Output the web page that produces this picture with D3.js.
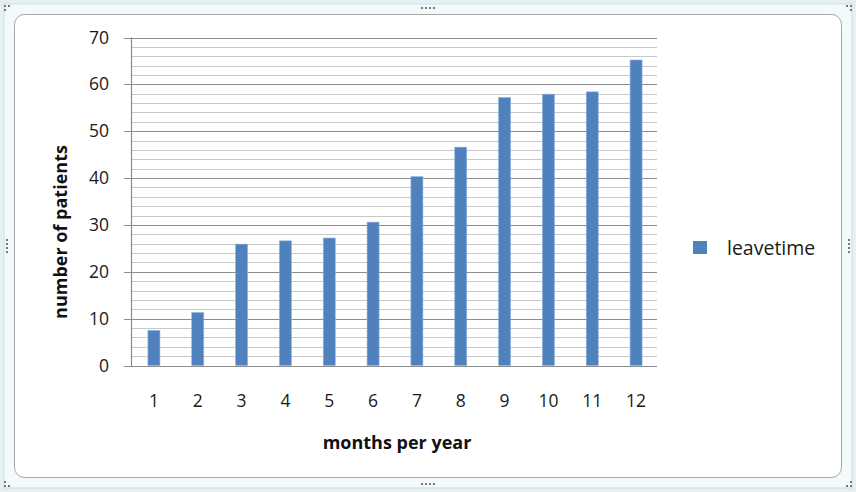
<!DOCTYPE html>
<html><head><meta charset="utf-8">
<script src="https://cdn.jsdelivr.net/npm/d3@7"></script>
<style>body{margin:0;background:#fff}svg{display:block}</style>
</head><body>
<script>
const categories = ["1","2","3","4","5","6","7","8","9","10","11","12"];
const leavetime = [7.5, 11.3, 25.9, 26.6, 27.2, 30.6, 40.3, 46.6, 57.2, 57.9, 58.4, 65.2];
const yTicks = [0,10,20,30,40,50,60,70];
const seriesName = "leavetime";

(function(){
const W = 856, H = 492;
const svg = d3.select("body").append("svg").attr("width", W).attr("height", H);

// Excel-like selection frame
svg.append("rect").attr("x",0).attr("y",0).attr("width",W).attr("height",H).attr("fill","#e6f0f2");
svg.append("rect").attr("x",4).attr("y",4).attr("width",W-8).attr("height",H-8).attr("fill","#f4f9fa").attr("stroke","#c9dde2");
svg.append("rect").attr("x",14.5).attr("y",14.5).attr("width",W-29).attr("height",H-29)
  .attr("rx",10).attr("fill","#fff").attr("stroke","#a8a8a8");
const dots = (cx, cy, horiz) => {
  for (let i=0;i<4;i++){
    svg.append("rect").attr("x", horiz? cx-7+i*4 : cx-1).attr("y", horiz? cy-1 : cy-7+i*4)
      .attr("width",2).attr("height",2).attr("fill","#777");
  }
};
dots(428,8,true); dots(428,484,true); dots(7,246,false); dots(849,246,false);
[[5,6],[9,6],[5,10],[847,6],[851,6],[851,10],[847,486],[851,486],[851,482],[5,486],[9,486],[5,482]].forEach(p=>
  svg.append("rect").attr("x",p[0]-1).attr("y",p[1]-1).attr("width",2).attr("height",2).attr("fill","#777"));

const pLeft = 131, pRight = 657, pTop = 37.5, pBottom = 365.5;
const x = d3.scaleBand().domain(categories).range([pLeft, pRight]).paddingInner(0).paddingOuter(0);
const y = d3.scaleLinear().domain([0,70]).range([pBottom, pTop]);

const g = svg.append("g");
d3.range(0, 71, 2).filter(v => v % 10 !== 0).forEach(v => {
  g.append("line").attr("x1",pLeft).attr("x2",pRight).attr("y1",Math.round(y(v))+0.5).attr("y2",Math.round(y(v))+0.5)
   .attr("stroke","#c8c8c8").attr("stroke-width",1.2);
});
yTicks.forEach(v => {
  g.append("line").attr("x1",pLeft-7).attr("x2",pRight).attr("y1",Math.round(y(v))+0.5).attr("y2",Math.round(y(v))+0.5)
   .attr("stroke","#8c8c8c").attr("stroke-width",1.2);
});
g.append("line").attr("x1",pLeft+0.5).attr("x2",pLeft+0.5).attr("y1",pTop).attr("y2",pBottom+0.5).attr("stroke","#8c8c8c").attr("stroke-width",1.2);

const bw = 12;
g.selectAll("rect.bar").data(leavetime).join("rect").attr("class","bar")
  .attr("x",(d,i)=> x(categories[i]) + x.bandwidth()/2 - bw/2 + 1)
  .attr("y", d => y(d)).attr("width", bw).attr("height", d => y(0) - y(d))
  .attr("fill","#4f81bd").attr("stroke","#8eb0dc").attr("stroke-width",0.6);

const font = "'Open Sans', 'Liberation Sans', sans-serif";
g.selectAll("text.yt").data(yTicks).join("text").attr("class","yt")
  .attr("x", 109).attr("y", d => y(d)).attr("dy","0.35em").attr("text-anchor","end")
  .attr("font-family",font).attr("font-size",17.5).attr("fill","#1a1a1a").text(d=>d);
g.selectAll("text.xt").data(categories).join("text").attr("class","xt")
  .attr("x", d => x(d) + x.bandwidth()/2 + 1).attr("y", 401).attr("dy","0.35em").attr("text-anchor","middle")
  .attr("font-family",font).attr("font-size",17.5).attr("fill","#1a1a1a").text(d=>d);

svg.append("text").attr("x",397).attr("y",443).attr("dy","0.35em").attr("text-anchor","middle")
  .attr("font-family",font).attr("font-weight","bold").attr("font-size",18).attr("fill","#111").text("months per year");
svg.append("text").attr("transform","translate(61,232) rotate(-90)").attr("dy","0.35em").attr("text-anchor","middle")
  .attr("font-family",font).attr("font-weight","bold").attr("font-size",18).attr("fill","#111").text("number of patients");

svg.append("rect").attr("x",693).attr("y",241).attr("width",14).attr("height",13).attr("fill","#4f81bd");
svg.append("text").attr("x",727).attr("y",248).attr("dy","0.35em").attr("font-family",font)
  .attr("font-size",19.5).attr("fill","#1a1a1a").text(seriesName);
})();
</script>
</body></html>
